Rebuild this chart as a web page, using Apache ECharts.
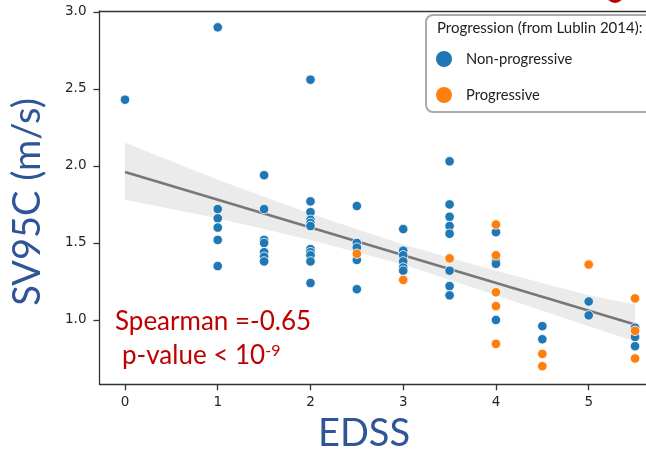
<!DOCTYPE html>
<html>
<head>
<meta charset="utf-8">
<script src="https://cdn.jsdelivr.net/npm/echarts@6/dist/echarts.min.js"></script>
<style>
  html, body { margin: 0; padding: 0; background: #fff; }
  #myChart { width: 646px; height: 451px; }
</style>
</head>
<body>
<div id="myChart"></div>
<script>
// EDSS values (x) and SV95C values (y)
let nonProgX = [0, 1, 1, 1, 1, 1, 1, 1.5, 1.5, 1.5, 1.5, 1.5, 1.5, 1.5,
  2, 2, 2, 2, 2, 2, 2, 2, 2, 2, 2, 2.5, 2.5, 2.5, 2.5, 2.5,
  3, 3, 3, 3, 3, 3, 3.5, 3.5, 3.5, 3.5, 3.5, 3.5, 3.5, 3.5,
  4, 4, 4, 4, 4.5, 4.5, 5, 5, 5.5, 5.5, 5.5];
let nonProgY = [2.43, 2.90, 1.72, 1.66, 1.60, 1.52, 1.35, 1.94, 1.72, 1.52, 1.50, 1.44, 1.41, 1.38,
  2.56, 1.77, 1.70, 1.65, 1.63, 1.61, 1.46, 1.44, 1.42, 1.38, 1.24, 1.74, 1.50, 1.47, 1.39, 1.20,
  1.59, 1.45, 1.42, 1.38, 1.34, 1.32, 2.03, 1.75, 1.67, 1.61, 1.56, 1.32, 1.22, 1.16,
  1.57, 1.38, 1.365, 1.00, 0.96, 0.875, 1.12, 1.03, 0.95, 0.89, 0.83];

let progX = [2.5, 3, 3.5, 4, 4, 4, 4, 4, 4.5, 4.5, 5, 5.5, 5.5, 5.5];
let progY = [1.43, 1.26, 1.40, 1.62, 1.42, 1.18, 1.09, 0.845, 0.78, 0.70, 1.36, 1.14, 0.93, 0.75];

// regression line and its confidence band
let regX = [0, 5.5];
let regY = [1.96, 0.97];
let bandX = [0, 1, 2, 3, 4, 5, 5.5];
let bandUpper = [2.15, 1.91, 1.69, 1.49, 1.32, 1.16, 1.10];
let bandLower = [1.78, 1.66, 1.52, 1.36, 1.16, 0.96, 0.86];

let xTicks = [0, 1, 2, 3, 4, 5];
let yTicks = [1.0, 1.5, 2.0, 2.5, 3.0];
let seriesNames = ["Non-progressive", "Progressive"];

let xMin = -0.275, xMax = 5.618, yMin = 0.5825, yMax = 3.006;

function zip(xs, ys) {
  return xs.map(function(x, i) { return [x, ys[i]]; });
}

let myChart = echarts.init(document.getElementById("myChart"));

let labelFont = {
  fontFamily: "DejaVu Sans",
  fontSize: 13.5,
  color: "#262626"
};
let axisLineStyle = { color: "#333", width: 1.3 };

const options = {
  animation: false,
  color: ["#1f77b4", "#ff7f0e"],
  grid: { left: 99.5, right: 0, top: 11, bottom: 66.7 },
  legend: {
    data: seriesNames,
    orient: "vertical",
    left: 436,
    top: 51,
    padding: 0,
    itemGap: 20,
    itemWidth: 16,
    itemHeight: 16,
    icon: "circle",
    itemStyle: { borderWidth: 0 },
    textStyle: {
      fontFamily: "Lato",
      fontSize: 14.7,
      color: "#222",
      lineHeight: 16,
      padding: [0, 0, 0, 9]
    }
  },
  xAxis: [
    {
      type: "value",
      min: xMin,
      max: xMax,
      splitLine: { show: false },
      axisLine: { onZero: false, lineStyle: axisLineStyle },
      axisTick: { length: 6, customValues: xTicks, lineStyle: axisLineStyle },
      axisLabel: Object.assign({ margin: 11, customValues: xTicks }, labelFont)
    },
    {
      type: "value",
      position: "top",
      min: xMin,
      max: xMax,
      splitLine: { show: false },
      axisLine: { onZero: false, lineStyle: axisLineStyle },
      axisTick: { show: false },
      axisLabel: { show: false }
    }
  ],
  yAxis: {
    type: "value",
    min: yMin,
    max: yMax,
    splitLine: { show: false },
    axisLine: { show: true, onZero: false, lineStyle: axisLineStyle },
    axisTick: { show: true, length: 6, customValues: yTicks, lineStyle: axisLineStyle },
    axisLabel: Object.assign({
      margin: 13,
      customValues: yTicks,
      formatter: function(v) { return v.toFixed(1); }
    }, labelFont)
  },
  graphic: [
    {
      type: "rect",
      z: 0,
      shape: { x: 426, y: 15, width: 260, height: 97, r: 7 },
      style: { fill: "#fff", stroke: "#aaa", lineWidth: 2 }
    },
    {
      type: "text",
      z: 1,
      x: 437,
      y: 28.5,
      style: {
        text: "Progression (from Lublin 2014):",
        fontFamily: "Lato",
        fontSize: 15,
        fill: "#222",
        verticalAlign: "middle"
      }
    },
    {
      type: "circle",
      shape: { cx: 615, cy: -6, r: 9 },
      style: { fill: "#c00000" }
    },
    {
      type: "text",
      x: 28,
      y: 202,
      rotation: Math.PI / 2,
      style: {
        text: "SV95C (m/s)",
        fontFamily: "Lato",
        fontSize: 38,
        fill: "#2f5597",
        align: "center",
        verticalAlign: "middle"
      }
    },
    {
      type: "text",
      x: 364,
      y: 434,
      style: {
        text: "EDSS",
        fontFamily: "Lato",
        fontSize: 38,
        fill: "#2f5597",
        align: "center",
        verticalAlign: "middle"
      }
    },
    {
      type: "text",
      x: 115,
      y: 322,
      style: {
        text: "Spearman =-0.65",
        fontFamily: "Lato",
        fontSize: 26,
        fill: "#c00000",
        verticalAlign: "middle"
      }
    },
    {
      type: "text",
      x: 122,
      y: 356,
      style: {
        text: "{m|p-value < 10}{s|-9}",
        fontFamily: "Lato",
        fill: "#c00000",
        verticalAlign: "middle",
        rich: {
          m: { fontFamily: "Lato", fontSize: 26, fill: "#c00000", color: "#c00000", verticalAlign: "bottom" },
          s: { fontFamily: "Lato", fontSize: 16, fill: "#c00000", color: "#c00000", verticalAlign: "top" }
        }
      }
    }
  ],
  series: [
    {
      type: "custom",
      silent: true,
      z: 1,
      data: [[0, 1]],
      renderItem: function(params, api) {
        let pts = [];
        for (let i = 0; i < bandX.length; i++) {
          pts.push(api.coord([bandX[i], bandUpper[i]]));
        }
        for (let i = bandX.length - 1; i >= 0; i--) {
          pts.push(api.coord([bandX[i], bandLower[i]]));
        }
        return {
          type: "polygon",
          shape: { points: pts },
          style: { fill: "#ebebeb" }
        };
      }
    },
    {
      type: "line",
      silent: true,
      z: 2,
      data: zip(regX, regY),
      symbol: "none",
      lineStyle: { color: "#777", width: 2.6 }
    },
    {
      name: seriesNames[0],
      type: "scatter",
      z: 3,
      symbolSize: 9.5,
      data: zip(nonProgX, nonProgY),
      itemStyle: { color: "#1f77b4", borderColor: "#fff", borderWidth: 0.8, opacity: 1 }
    },
    {
      name: seriesNames[1],
      type: "scatter",
      z: 3,
      symbolSize: 9.5,
      data: zip(progX, progY),
      itemStyle: { color: "#ff7f0e", borderColor: "#fff", borderWidth: 0.8, opacity: 1 }
    }
  ]
};

myChart.setOption(options);
</script>
</body>
</html>
